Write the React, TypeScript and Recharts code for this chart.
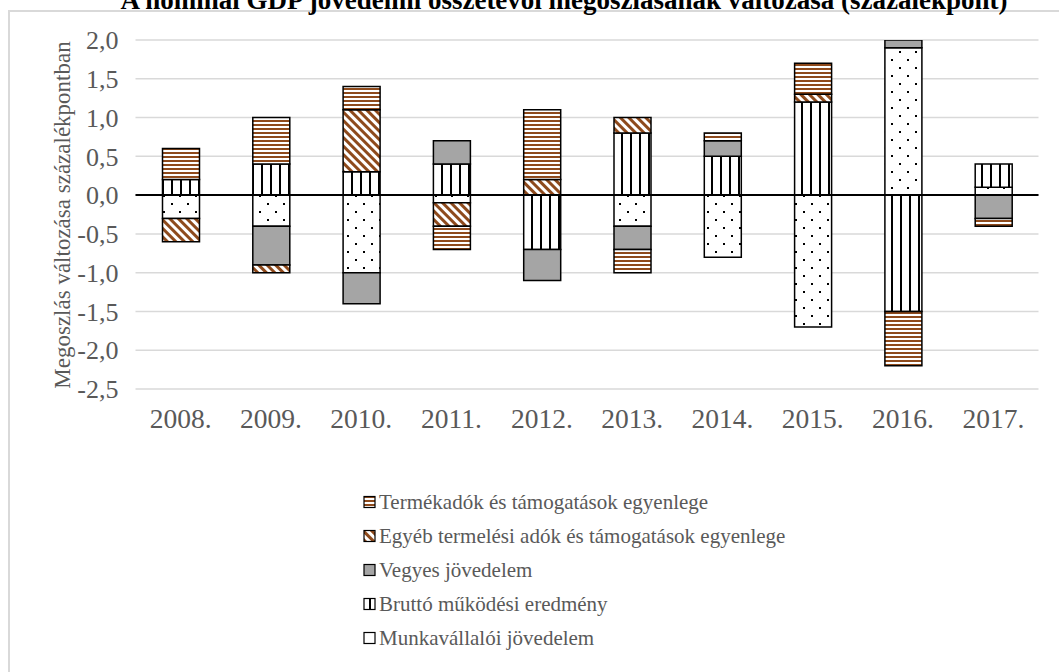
import React from 'react';
import { BarChart, Bar, XAxis, YAxis, CartesianGrid, ReferenceLine } from 'recharts';

const years = ['2008.', '2009.', '2010.', '2011.', '2012.', '2013.', '2014.', '2015.', '2016.', '2017.'];
const munkavallaloi = [-0.3, -0.4, -1.0, -0.1, 0, -0.4, -0.8, -1.7, 1.9, 0.1];
const brutto = [0.2, 0.4, 0.3, 0.4, -0.7, 0.8, 0.5, 1.2, -1.5, 0.3];
const vegyes = [0, -0.5, -0.4, 0.3, -0.4, -0.3, 0.2, 0, 0.2, -0.3];
const egyeb = [-0.3, -0.1, 0.8, -0.3, 0.2, 0.2, 0, 0.1, 0, 0];
const termek = [0.4, 0.6, 0.3, -0.3, 0.9, -0.3, 0.1, 0.4, -0.7, -0.1];
const yTicks = [-2.5, -2, -1.5, -1, -0.5, 0, 0.5, 1, 1.5, 2];

const seriesNames = {
  termek: 'Termékadók és támogatások egyenlege',
  egyeb: 'Egyéb termelési adók és támogatások egyenlege',
  vegyes: 'Vegyes jövedelem',
  brutto: 'Bruttó működési eredmény',
  munka: 'Munkavállalói jövedelem',
};

const data = years.map((year, i) => ({
  year,
  munka: munkavallaloi[i],
  brutto: brutto[i],
  vegyes: vegyes[i],
  egyeb: egyeb[i],
  termek: termek[i],
}));

const BROWN = '#8E4A1C';
const GRAY = '#A5A5A5';
const TEXT = '#595959';
const FONT = '"Liberation Serif", "Times New Roman", serif';

function Patterns({ p }: { p: string }) {
  return (
    <defs>
      <pattern id={`${p}dots`} width="16" height="16" patternUnits="userSpaceOnUse">
        <rect width="16" height="16" fill="#fff" />
        <rect x="3" y="3" width="2" height="2" fill="#000" />
        <rect x="11" y="11" width="2" height="2" fill="#000" />
      </pattern>
      <pattern id={`${p}vert`} width="9" height="9" patternUnits="userSpaceOnUse">
        <rect width="9" height="9" fill="#fff" />
        <rect x="0" width="2" height="9" fill="#000" />
      </pattern>
      <pattern id={`${p}horiz`} width="4" height="4" patternUnits="userSpaceOnUse">
        <rect width="4" height="4" fill="#fff" />
        <rect y="0" width="4" height="2" fill={BROWN} />
      </pattern>
      <pattern id={`${p}diag`} width="6" height="6" patternUnits="userSpaceOnUse" patternTransform="rotate(-45)">
        <rect width="6" height="6" fill="#fff" />
        <rect x="0" width="3" height="6" fill={BROWN} />
      </pattern>
    </defs>
  );
}

const legendItems = [
  { key: 'termek', fill: 'url(#lg-horiz)' },
  { key: 'egyeb', fill: 'url(#lg-diag)' },
  { key: 'vegyes', fill: GRAY },
  { key: 'brutto', fill: 'url(#lg-vert)' },
  { key: 'munka', fill: '#fff' },
];

const fmt = (v: number) => v.toFixed(1).replace('.', ',');

export default function App() {
  return (
    <div style={{ position: 'absolute', left: 0, top: 0, width: 1059, height: 672, overflow: 'hidden', background: '#fff', fontFamily: FONT }}>
      <div style={{ position: 'absolute', left: 8, top: 10, width: 1100, height: 720, border: '2px solid #d9d9d9' }} />
      <div style={{ position: 'absolute', left: 0, top: 0 }}>
        <BarChart width={1059} height={672} data={data} stackOffset="sign" margin={{ top: 40, right: 20.5, bottom: 253, left: 55.5 }}>
          <Patterns p="c-" />
          <CartesianGrid vertical={false} stroke="#d9d9d9" strokeWidth={1.5} />
          <XAxis dataKey="year" axisLine={false} tickLine={false} tickSize={0} tickMargin={19} height={30} interval={0} tick={{ fill: TEXT, fontSize: 27.5, fontFamily: FONT }} />
          <YAxis type="number" domain={[-2.5, 2]} ticks={yTicks} allowDataOverflow interval={0} tickFormatter={fmt} axisLine={false} tickLine={false} tickSize={0} tickMargin={17} width={80} tick={{ fill: TEXT, fontSize: 26, fontFamily: FONT }} />
          <Bar dataKey="munka" stackId="a" fill="url(#c-dots)" stroke="#000" strokeWidth={1.5} barSize={37} isAnimationActive={false} />
          <Bar dataKey="brutto" stackId="a" fill="url(#c-vert)" stroke="#000" strokeWidth={1.5} barSize={37} isAnimationActive={false} />
          <Bar dataKey="vegyes" stackId="a" fill={GRAY} stroke="#000" strokeWidth={1.5} barSize={37} isAnimationActive={false} />
          <Bar dataKey="egyeb" stackId="a" fill="url(#c-diag)" stroke="#000" strokeWidth={1.5} barSize={37} isAnimationActive={false} />
          <Bar dataKey="termek" stackId="a" fill="url(#c-horiz)" stroke="#000" strokeWidth={1.5} barSize={37} isAnimationActive={false} />
          <ReferenceLine y={0} stroke="#000" strokeWidth={2} />
        </BarChart>
      </div>
      <svg width={1059} height={672} style={{ position: 'absolute', left: 0, top: 0, pointerEvents: 'none' }}>
        <Patterns p="lg-" />
        <text x={564} y={9} textAnchor="middle" fontSize={27} fontWeight="bold" fill="#000" fontFamily={FONT}>
          A nominál GDP jövedelmi összetevői megoszlásának változása (százalékpont)
        </text>
        <text x={62} y={215} transform="rotate(-90, 62, 215)" textAnchor="middle" dominantBaseline="central" fontSize={23} fill={TEXT} fontFamily={FONT}>
          Megoszlás változása százalékpontban
        </text>
        {legendItems.map((it, i) => {
          const cy = 502 + i * 34;
          return (
            <g key={it.key}>
              <rect x={364} y={cy - 5.5} width={11} height={11} fill={it.fill} stroke="#000" strokeWidth={1.2} />
              <text x={379} y={cy + 7} fontSize={21} fill={TEXT} fontFamily={FONT}>
                {seriesNames[it.key as keyof typeof seriesNames]}
              </text>
            </g>
          );
        })}
      </svg>
    </div>
  );
}
